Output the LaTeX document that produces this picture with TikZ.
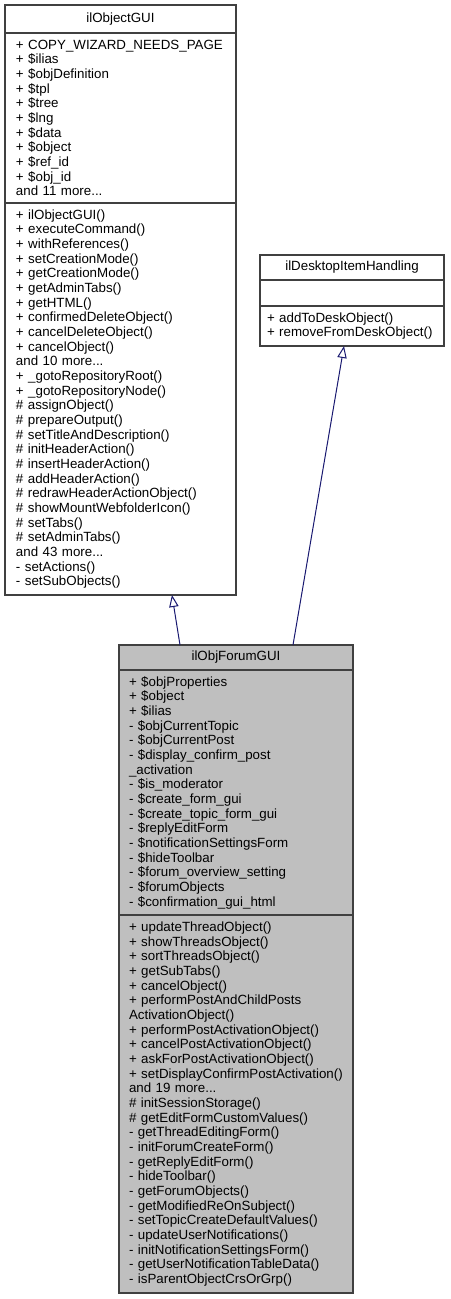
\documentclass[tikz,border=0pt]{standalone}
\usepackage{fontspec}
\setmainfont{Liberation Sans}
\usetikzlibrary{positioning,arrows.meta}
\definecolor{edgeblue}{HTML}{191970}
\definecolor{boxgray}{HTML}{BFBFBF}
\tikzset{
  compart/.style={draw=black!75, line width=0.9pt, outer sep=0pt, inner ysep=2pt,
    align=left, font=\fontsize{10}{11}\selectfont},
  titlecompart/.style={compart, align=center},
  objbox/.style={inner xsep=8.25pt, text width=156.75pt, minimum width=173.25pt},
  deskbox/.style={inner xsep=5.25pt, text width=127.5pt, minimum width=138pt},
  forumbox/.style={fill=boxgray, inner xsep=7.5pt, text width=160.5pt, minimum width=175.5pt},
  inherit/.style={draw=edgeblue, line width=0.75pt,
    -{Triangle[open,length=9pt,width=7pt]}}
}
\begin{document}
\begin{tikzpicture}[x=1pt,y=1pt]
\useasboundingbox (0,0) rectangle (337.5,-974.25);
% base class
\node[titlecompart, objbox, minimum height=21pt, anchor=north west]
  (objtitle) at (3.75,-3.75) {ilObjectGUI};
\node[compart, objbox, minimum height=127.5pt, below=0pt of objtitle]
  (objattr) {+ COPY\_WIZARD\_NEEDS\_PAGE\\+ \$ilias\\+ \$objDefinition\\+ \$tpl\\+ \$tree\\+ \$lng\\+ \$data\\+ \$object\\+ \$ref\_id\\+ \$obj\_id\\and 11 more...};
\node[compart, objbox, minimum height=294pt, below=0pt of objattr]
  (objmeth) {+ ilObjectGUI()\\+ executeCommand()\\+ withReferences()\\+ setCreationMode()\\+ getCreationMode()\\+ getAdminTabs()\\+ getHTML()\\+ confirmedDeleteObject()\\+ cancelDeleteObject()\\+ cancelObject()\\and 10 more...\\+ \_gotoRepositoryRoot()\\+ \_gotoRepositoryNode()\\\# assignObject()\\\# prepareOutput()\\\# setTitleAndDescription()\\\# initHeaderAction()\\\# insertHeaderAction()\\\# addHeaderAction()\\\# redrawHeaderActionObject()\\\# showMountWebfolderIcon()\\\# setTabs()\\\# setAdminTabs()\\and 43 more...\\- setActions()\\- setSubObjects()};
% interface-like class
\node[titlecompart, deskbox, minimum height=18.75pt, anchor=north west]
  (desktitle) at (195,-191.25) {ilDesktopItemHandling};
\node[compart, deskbox, minimum height=19.5pt, below=0pt of desktitle]
  (deskattr) {};
\node[compart, deskbox, minimum height=30pt, below=0pt of deskattr]
  (deskmeth) {+ addToDeskObject()\\+ removeFromDeskObject()};
% derived class
\node[titlecompart, forumbox, minimum height=18.75pt, anchor=north west]
  (forumtitle) at (89.25,-483.75) {ilObjForumGUI};
\node[compart, forumbox, minimum height=183.75pt, below=0pt of forumtitle]
  (forumattr) {+ \$objProperties\\+ \$object\\+ \$ilias\\- \$objCurrentTopic\\- \$objCurrentPost\\- \$display\_confirm\_post\\\_activation\\- \$is\_moderator\\- \$create\_form\_gui\\- \$create\_topic\_form\_gui\\- \$replyEditForm\\- \$notificationSettingsForm\\- \$hideToolbar\\- \$forum\_overview\_setting\\- \$forumObjects\\- \$confirmation\_gui\_html};
\node[compart, forumbox, minimum height=283.5pt, below=0pt of forumattr]
  (forummeth) {+ updateThreadObject()\\+ showThreadsObject()\\+ sortThreadsObject()\\+ getSubTabs()\\+ cancelObject()\\+ performPostAndChildPosts\\ActivationObject()\\+ performPostActivationObject()\\+ cancelPostActivationObject()\\+ askForPostActivationObject()\\+ setDisplayConfirmPostActivation()\\and 19 more...\\\# initSessionStorage()\\\# getEditFormCustomValues()\\- getThreadEditingForm()\\- initForumCreateForm()\\- getReplyEditForm()\\- hideToolbar()\\- getForumObjects()\\- getModifiedReOnSubject()\\- setTopicCreateDefaultValues()\\- updateUserNotifications()\\- initNotificationSettingsForm()\\- getUserNotificationTableData()\\- isParentObjectCrsOrGrp()};
% inheritance
\draw[inherit] ([xshift=-42pt]forumtitle.north) -- ([xshift=38.6pt]objmeth.south);
\draw[inherit] ([xshift=42.75pt]forumtitle.north) -- ([xshift=-6pt]deskmeth.south);
\end{tikzpicture}
\end{document}
